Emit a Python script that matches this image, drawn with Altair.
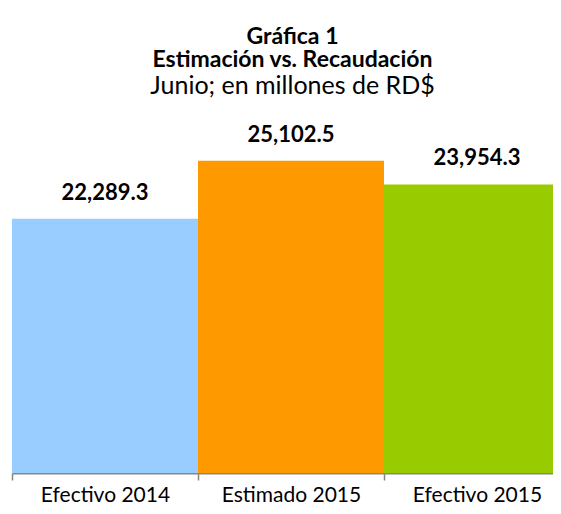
import json
import altair as alt
import pandas as pd

categories = ["Efectivo 2014", "Estimado 2015", "Efectivo 2015"]
values = [22289.3, 25102.5, 23954.3]
value_labels = ["22,289.3", "25,102.5", "23,954.3"]
colors = ["#99CCFF", "#FF9900", "#99CC00"]

idx = list(range(len(categories)))
df = pd.DataFrame({
    "cat": categories,
    "val": values,
    "lbl": value_labels,
    "x0": idx,
    "x1": [i + 1 for i in idx],
    "mid": [i + 0.5 for i in idx],
})

FONT = "Lato"
PLOT_W = 541
BAND_PX = 186

is_label = "(datum.value % 1) > 0.25"

x_axis = alt.Axis(
    title=None,
    values=idx + [i + 0.5 for i in idx],
    labelExpr=f"{is_label} ? {json.dumps(categories, ensure_ascii=False)}[floor(datum.value)] : ''",
    labelAngle=0,
    labelOverlap=False,
    labelFlush=False,
    grid=False,
    domainColor="#868686",
    domainWidth=2,
    tickColor="#868686",
    tickWidth=1.5,
    tickSize=7,
    tickOpacity={"condition": {"test": is_label, "value": 0}, "value": 1},
    labelFont=FONT,
    labelFontSize=21,
    labelColor="#000000",
    labelPadding=4,
)
x_scale = alt.Scale(domain=[0, PLOT_W / BAND_PX], nice=False, zero=False)
y_scale = alt.Scale(domain=[10000, 26100])

bars = alt.Chart(df).mark_bar(clip=True).encode(
    x=alt.X("x0:Q", scale=x_scale, axis=x_axis),
    x2="x1:Q",
    y=alt.Y("val:Q", scale=y_scale, axis=None),
    y2=alt.datum(0),
    color=alt.Color("cat:N", scale=alt.Scale(domain=categories, range=colors), legend=None),
)
text = alt.Chart(df).mark_text(
    font=FONT, fontWeight="bold", fontSize=22, baseline="alphabetic", dy=-19, color="#000000"
).encode(
    x=alt.X("mid:Q", scale=x_scale, title=None),
    y=alt.Y("val:Q", scale=y_scale, axis=None),
    text="lbl:N",
)

chart = (
    alt.layer(bars, text)
    .properties(
        width=PLOT_W,
        height=333,
        autosize=alt.AutoSizeParams(type="none"),
        padding={"left": 4, "top": 132, "right": 0, "bottom": 29},
        title=alt.Title(
            text=["Gráfica 1", "Estimación vs. Recaudación"],
            subtitle="Junio; en millones de RD$",
            font=FONT,
            fontSize=23,
            fontWeight="bold",
            lineHeight=23,
            color="#000000",
            subtitleFont=FONT,
            subtitleFontSize=25,
            subtitleFontWeight="normal",
            subtitleColor="#000000",
            subtitlePadding=2,
            anchor="middle",
            offset=25,
            dx=10,
        ),
    )
    .configure_view(stroke=None)
)

chart.save("out.html", embed_options={"renderer": "svg", "actions": False})
